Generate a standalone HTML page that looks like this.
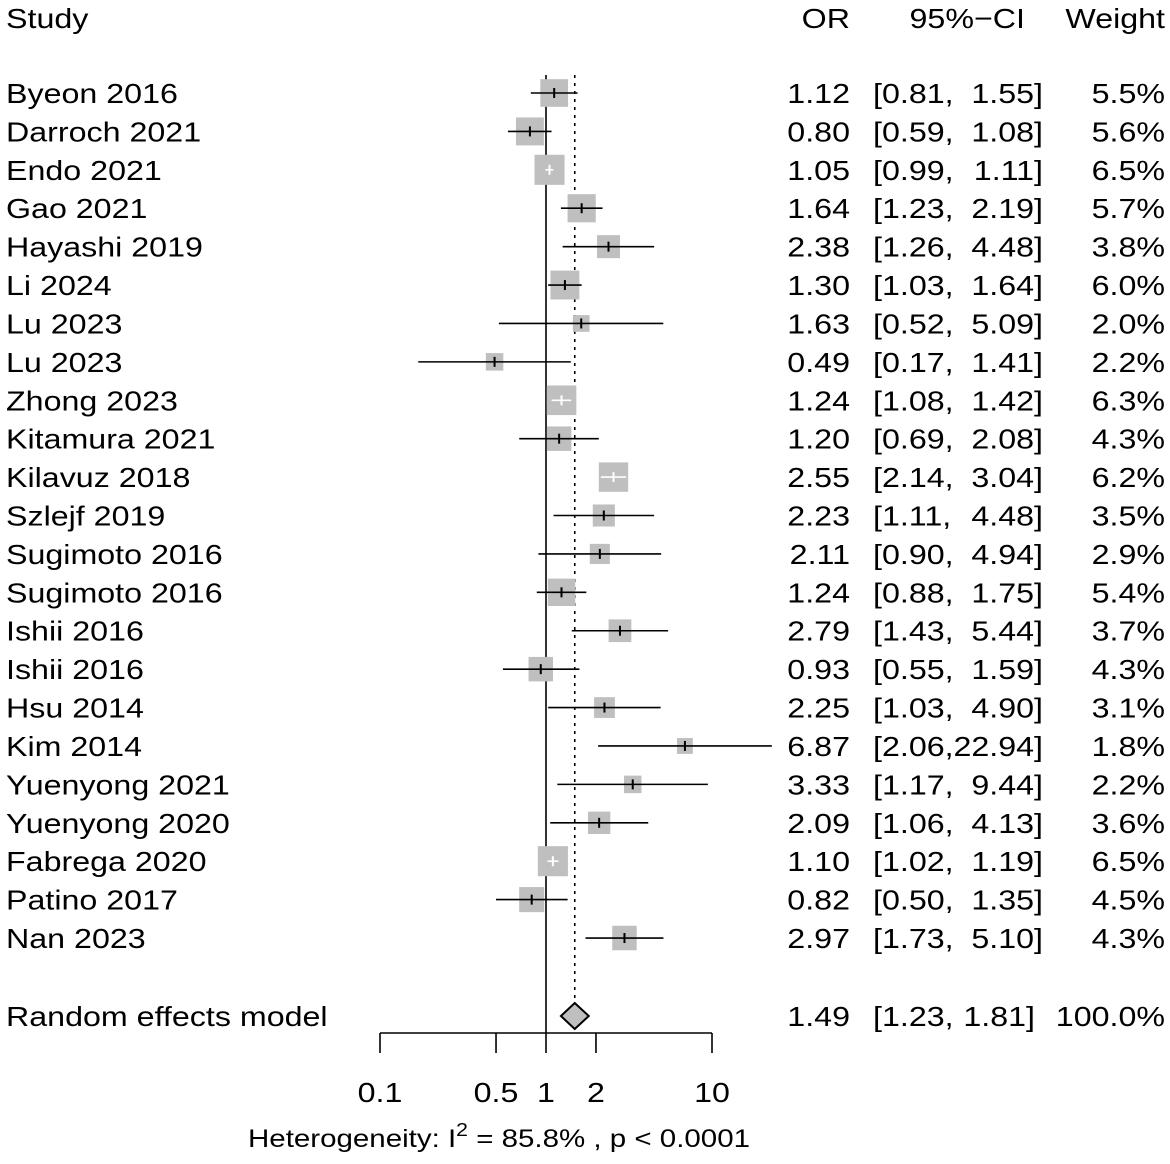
<!DOCTYPE html>
<html><head><meta charset="utf-8"><style>
body{margin:0;background:#fff}
svg text{font-family:"Liberation Sans",Arial,sans-serif;fill:#000}
</style></head><body>
<svg id="c" width="1170" height="1159" xmlns="http://www.w3.org/2000/svg">
<g font-size="28">
<text x="6" y="28">Study</text>
<text x="850" y="28" text-anchor="end">OR</text>
<text x="1025" y="28" text-anchor="end">95%−CI</text>
<text x="1165" y="28" text-anchor="end">Weight</text>
</g>
</svg>
<script>
const studies=["Byeon 2016","Darroch 2021","Endo 2021","Gao 2021","Hayashi 2019","Li 2024","Lu 2023","Lu 2023","Zhong 2023","Kitamura 2021","Kilavuz 2018","Szlejf 2019","Sugimoto 2016","Sugimoto 2016","Ishii 2016","Ishii 2016","Hsu 2014","Kim 2014","Yuenyong 2021","Yuenyong 2020","Fabrega 2020","Patino 2017","Nan 2023"];
const ors=[1.12,0.80,1.05,1.64,2.38,1.30,1.63,0.49,1.24,1.20,2.55,2.23,2.11,1.24,2.79,0.93,2.25,6.87,3.33,2.09,1.10,0.82,2.97];
const lowers=[0.81,0.59,0.99,1.23,1.26,1.03,0.52,0.17,1.08,0.69,2.14,1.11,0.90,0.88,1.43,0.55,1.03,2.06,1.17,1.06,1.02,0.50,1.73];
const uppers=[1.55,1.08,1.11,2.19,4.48,1.64,5.09,1.41,1.42,2.08,3.04,4.48,4.94,1.75,5.44,1.59,4.90,22.94,9.44,4.13,1.19,1.35,5.10];
const weights=[5.5,5.6,6.5,5.7,3.8,6.0,2.0,2.2,6.3,4.3,6.2,3.5,2.9,5.4,3.7,4.3,3.1,1.8,2.2,3.6,6.5,4.5,4.3];
const pooled=[1.49,1.23,1.81];
const ticks=[0.1,0.5,1,2,10];
const NS="http://www.w3.org/2000/svg",svg=document.getElementById('c');
const X=v=>546+166*Math.log10(v);
const Y=i=>93+i*38.41;
function el(t,a,txt){const e=document.createElementNS(NS,t);for(const k in a)e.setAttribute(k,a[k]);if(txt!=null)e.textContent=txt;svg.appendChild(e);return e;}
const f2=v=>v.toFixed(2);
let e=el('line',{x1:X(1),x2:X(1),y1:75,y2:1033,stroke:'#000','stroke-width':1.6});


e=el('line',{x1:X(pooled[0]),x2:X(pooled[0]),y1:75,y2:1005,stroke:'#000','stroke-width':1.6,'stroke-dasharray':'3,5'});


studies.forEach((s,i)=>{
  const y=Y(i),x=X(ors[i]),sz=11.8*Math.sqrt(weights[i]);
  const x1=X(lowers[i]),x2=X(uppers[i]);
  let r=el('rect',{x:x-sz/2,y:y-sz/2,width:sz,height:sz,fill:'#bfbfbf'});
  
  
  const inside=x1>=x-sz/2&&x2<=x+sz/2;
  const col=inside?'#fff':'#000';
  let l=el('line',{x1:x1,x2:x2,y1:y,y2:y,stroke:col,'stroke-width':1.6});
  
  
  let m=el('line',{x1:x,x2:x,y1:y-5,y2:y+5,stroke:col,'stroke-width':2});
  
  
  const by=y+10;
  let t=el('text',{x:6,y:by,'font-size':28},s);
  
  
  t=el('text',{x:850,y:by,'font-size':28,'text-anchor':'end'},f2(ors[i]));
  
  
  t=el('text',{x:873,y:by,'font-size':28},'['+f2(lowers[i])+',');
  
  
  t=el('text',{x:1043,y:by,'font-size':28,'text-anchor':'end'},f2(uppers[i])+']');
  
  
  t=el('text',{x:1165,y:by,'font-size':28,'text-anchor':'end'},weights[i].toFixed(1)+'%');
  
  
});
const py=1016,px=X(pooled[0]),pl=X(pooled[1]),pu=X(pooled[2]);
let d=el('polygon',{points:`${pl},${py} ${px},${py-13} ${pu},${py} ${px},${py+13}`,fill:'#bfbfbf',stroke:'#000','stroke-width':2});


[['Random effects model',6,'start','pooled-label'],[f2(pooled[0]),850,'end','pooled-or']].forEach(a=>{
  const t=el('text',{x:a[1],y:py+10,'font-size':28,'text-anchor':a[2]},a[0]);
  
  
});
let t=el('text',{x:873,y:py+10,'font-size':28},'['+f2(pooled[1])+',');


t=el('text',{x:1035,y:py+10,'font-size':28,'text-anchor':'end'},f2(pooled[2])+']');


t=el('text',{x:1165,y:py+10,'font-size':28,'text-anchor':'end'},'100.0%');


let ax=el('line',{x1:X(ticks[0]),x2:X(ticks[ticks.length-1]),y1:1033,y2:1033,stroke:'#000','stroke-width':1.6});


ticks.forEach(v=>{
  const tk=el('line',{x1:X(v),x2:X(v),y1:1033,y2:1053,stroke:'#000','stroke-width':1.6});
  
  
  const tl=el('text',{x:X(v),y:1102,'font-size':28,'text-anchor':'middle'},String(v));
  
  
});
// widen glyphs horizontally to match reference
svg.querySelectorAll('text').forEach(tx=>{
  const w=tx.getComputedTextLength();
  tx.setAttribute('textLength',(w*1.15).toFixed(1));
  tx.setAttribute('lengthAdjust','spacingAndGlyphs');
});
const h=el('text',{x:499,y:1147,'font-size':25,'text-anchor':'middle',textLength:502,lengthAdjust:'spacingAndGlyphs'});
h.innerHTML='Heterogeneity: I<tspan dy="-11" font-size="18">2</tspan><tspan dy="11"> = 85.8% , p &lt; 0.0001</tspan>';


</script>
</body></html>
